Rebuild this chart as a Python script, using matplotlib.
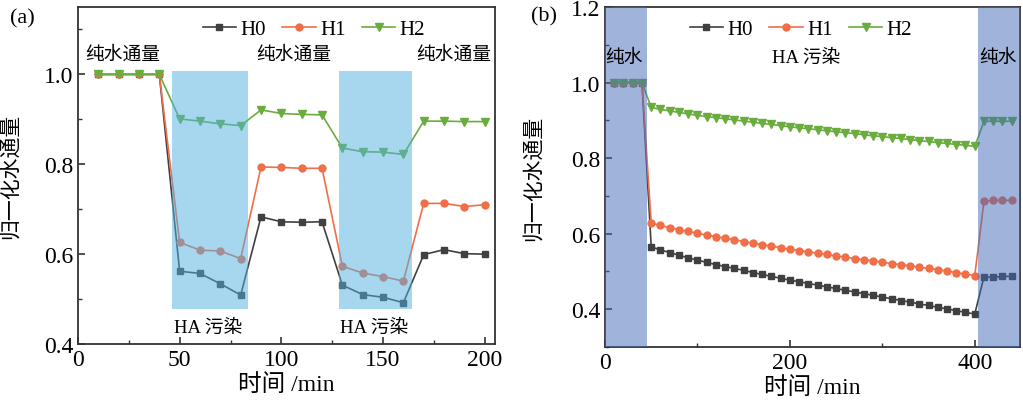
import matplotlib

matplotlib.use("Agg")
import matplotlib.pyplot as plt
from matplotlib.ticker import MultipleLocator

plt.rcParams["font.family"] = ["Liberation Serif", "Noto Sans CJK SC"]

# ---- panel (a): cyclic pure water / HA fouling
t_a = [10, 20, 30, 40, 50, 60, 70, 80, 90, 100,
       110, 120, 130, 140, 150, 160, 170, 180, 190, 200]
h0_a = [1.0, 1.0, 1.0, 1.0, 0.562, 0.557, 0.534, 0.509, 0.683, 0.672,
        0.671, 0.672, 0.531, 0.510, 0.504, 0.492, 0.599, 0.610, 0.601, 0.600]
h1_a = [1.0, 1.0, 1.0, 1.0, 0.626, 0.609, 0.607, 0.590, 0.794, 0.793,
        0.791, 0.791, 0.573, 0.558, 0.550, 0.540, 0.713, 0.713, 0.706, 0.710]
h2_a = [1.0, 1.0, 1.0, 1.0, 0.901, 0.896, 0.890, 0.886, 0.921, 0.913,
        0.911, 0.910, 0.836, 0.828, 0.827, 0.822, 0.896, 0.896, 0.895, 0.895]

# ---- panel (b): long fouling run
t_b = [10, 20, 30, 40] + list(range(50, 401, 10)) + [410, 420, 430, 440]
h0_b = ([1.0, 1.0, 1.0, 1.0]
        + [0.565, 0.557, 0.550, 0.543, 0.536, 0.530, 0.524, 0.518, 0.513,
           0.508, 0.503, 0.497, 0.492, 0.487, 0.482, 0.477, 0.473, 0.468,
           0.464, 0.459, 0.455, 0.450, 0.446, 0.441, 0.437, 0.432, 0.428,
           0.423, 0.419, 0.414, 0.410, 0.405, 0.401, 0.396, 0.392, 0.387]
        + [0.486, 0.484, 0.487, 0.487])
h1_b = ([1.0, 1.0, 1.0, 1.0]
        + [0.628, 0.622, 0.616, 0.611, 0.606, 0.601, 0.596, 0.592, 0.588,
           0.584, 0.579, 0.575, 0.571, 0.567, 0.563, 0.559, 0.555, 0.552,
           0.548, 0.545, 0.541, 0.538, 0.534, 0.531, 0.528, 0.524, 0.521,
           0.518, 0.515, 0.511, 0.508, 0.505, 0.501, 0.497, 0.493, 0.489]
        + [0.686, 0.688, 0.688, 0.688])
h2_b = ([1.0, 1.0, 1.0, 1.0]
        + [0.934, 0.929, 0.925, 0.921, 0.917, 0.913, 0.910, 0.907, 0.904,
           0.901, 0.898, 0.895, 0.892, 0.889, 0.886, 0.883, 0.880, 0.878,
           0.875, 0.872, 0.870, 0.867, 0.865, 0.862, 0.859, 0.857, 0.854,
           0.852, 0.849, 0.846, 0.844, 0.841, 0.839, 0.836, 0.834, 0.831]
        + [0.897, 0.898, 0.897, 0.898])

labels = ["H0", "H1", "H2"]
colors = ["#404040", "#f06e48", "#6aad3e"]
markers = ["s", "o", "v"]

fig = plt.figure(figsize=(10.23, 4.10), dpi=100)
ax1 = fig.add_axes([0.0762, 0.1585, 0.4076, 0.822])
ax2 = fig.add_axes([0.5914, 0.1512, 0.4057, 0.8293])


def style_axes(ax):
    for sp in ax.spines.values():
        sp.set_linewidth(1.3)
        sp.set_color("#333333")
    ax.tick_params(which="both", direction="in", labelsize=17, colors="#333333",
                   labelcolor="black")
    ax.tick_params(which="major", length=5, width=1.2)
    ax.tick_params(which="minor", length=3, width=1.0)
    ax.set_xlabel("时间 /min", fontsize=17, labelpad=2)
    ax.set_ylabel("归一化水通量", fontsize=15)


for ax, t, series, lx in [(ax1, t_a, (h0_a, h1_a, h2_a), 0.566),
                          (ax2, t_b, (h0_b, h1_b, h2_b), 0.472)]:
    for y, lab, c, m in zip(series, labels, colors, markers):
        ax.plot(t, y, color=c, marker=m, markersize=5.5 if m == "v" else 5,
                linewidth=1.2, label=lab, zorder=3)
    style_axes(ax)
    ax.legend(loc="upper center", bbox_to_anchor=(lx, 1.0), ncol=3,
              frameon=False, fontsize=15, handlelength=1.6,
              columnspacing=0.8, handletextpad=0.2, borderaxespad=0.2)

# panel (a)
ax1.set_xlim(0, 205)
ax1.set_ylim(0.4, 1.15)
ax1.xaxis.set_major_locator(MultipleLocator(50))
ax1.xaxis.set_minor_locator(MultipleLocator(25))
ax1.set_yticks([0.4, 0.6, 0.8, 1.0])
ax1.yaxis.set_minor_locator(MultipleLocator(0.1))
ax1.yaxis.set_label_coords(-0.137, 0.5)
for x0, x1 in [(46, 83.5), (128.5, 164)]:
    ax1.fill_between([x0, x1], 0.478, 1.008, color="#51b1e1", alpha=0.5,
                     linewidth=0, zorder=4)
for x, txt in [(22, "纯水通量"), (106, "纯水通量"), (185, "纯水通量")]:
    ax1.text(x, 1.045, txt, ha="center", va="center", fontsize=13.5)
for x in [64, 145.5]:
    ax1.text(x, 0.437, "HA 污染", ha="center", va="center", fontsize=13.5)

# panel (b)
ax2.set_xlim(0, 449)
ax2.set_ylim(0.3, 1.2)
ax2.xaxis.set_major_locator(MultipleLocator(200))
ax2.xaxis.set_minor_locator(MultipleLocator(100))
ax2.set_yticks([0.4, 0.6, 0.8, 1.0, 1.2])
ax2.yaxis.set_minor_locator(MultipleLocator(0.1))
ax2.yaxis.set_label_coords(-0.148, 0.5)
for x0, x1 in [(0, 45), (404, 449)]:
    ax2.axvspan(x0, x1, color="#4169b9", alpha=0.5, linewidth=0, zorder=4)
ax2.text(21, 1.066, "纯水", ha="center", va="center", fontsize=13.5, zorder=5)
ax2.text(218, 1.066, "HA 污染", ha="center", va="center", fontsize=13.5)
ax2.text(425, 1.066, "纯水", ha="center", va="center", fontsize=13.5, zorder=5)

fig.text(0.022, 0.955, "(a)", ha="center", va="center", fontsize=16)
fig.text(0.532, 0.958, "(b)", ha="center", va="center", fontsize=16)

fig.savefig("out.png", dpi=100)
